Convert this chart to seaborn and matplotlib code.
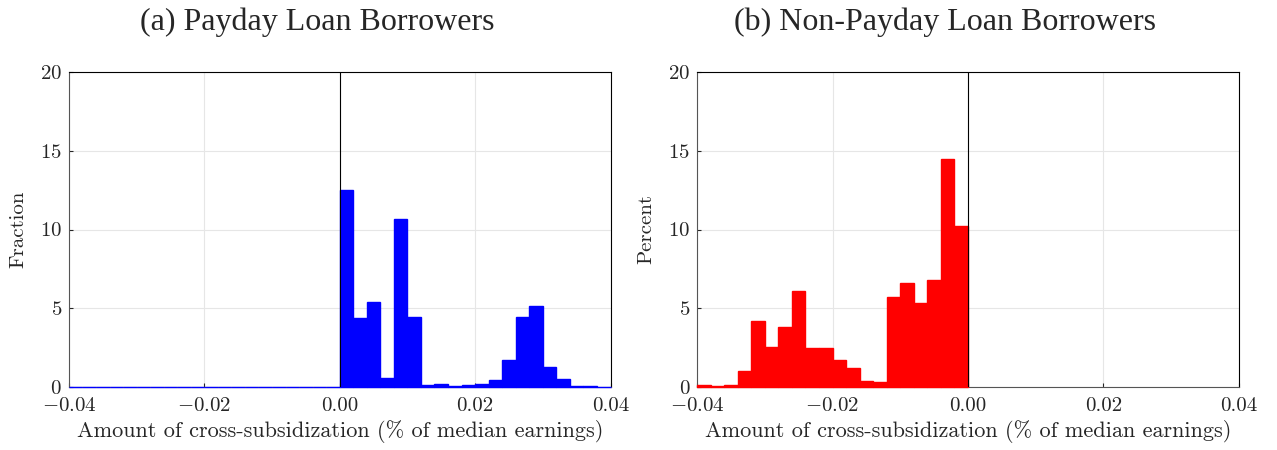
import numpy as np
import pandas as pd
import matplotlib
matplotlib.use("Agg")
import matplotlib.pyplot as plt
import seaborn as sns

# bins: 0.002 wide, from -0.04 to 0.04
bin_lo = -0.04
bin_hi = 0.04
bin_w = 0.002

# (a) payday borrowers: heights for bins 0.000 .. 0.040 (bins below 0 are empty)
payday_heights = [12.5, 4.36, 5.37, 0.59, 10.69, 4.44, 0.13, 0.19, 0.04, 0.13,
                  0.19, 0.44, 1.71, 4.44, 5.14, 1.25, 0.51, 0.04, 0.04, 0.02]
# (b) non-payday borrowers: heights for bins -0.040 .. 0.000
nonpayday_heights = [0.11, 0.05, 0.11, 0.99, 4.21, 2.54, 3.83, 6.12, 2.46, 2.46,
                     1.69, 1.18, 0.36, 0.30, 5.74, 6.63, 5.36, 6.79, 14.45, 10.22]

titles = ["(a) Payday Loan Borrowers", "(b) Non-Payday Loan Borrowers"]
ylabels = ["Fraction", "Percent"]
xlabel = "Amount of cross-subsidization (% of median earnings)"
xticks = [-0.04, -0.02, 0.00, 0.02, 0.04]
yticks = [0, 5, 10, 15, 20]

sns.set_style("white")
plt.rcParams['font.family'] = ['cmr10', 'DejaVu Serif']
plt.rcParams['mathtext.fontset'] = 'cm'
plt.rcParams['axes.formatter.use_mathtext'] = True

n_half = len(payday_heights)
centers = bin_lo + bin_w * (np.arange(2 * n_half) + 0.5)

# panel a: zero bars on the negative side (outline still shows)
df_a = pd.DataFrame({"x": centers,
                     "w": np.concatenate([np.zeros(n_half), payday_heights])})
# panel b: only negative bins
df_b = pd.DataFrame({"x": centers[:n_half], "w": nonpayday_heights})

fig, axes = plt.subplots(1, 2, figsize=(12.77, 4.5), dpi=100)
fig.subplots_adjust(left=0.054, right=0.970, bottom=0.14, top=0.84, wspace=0.16)

panels = [(df_a, (bin_lo, bin_hi), "#0000ff"), (df_b, (bin_lo, 0.0), "#ff0000")]
for ax, (df, brange, col), title, ylab in zip(axes, panels, titles, ylabels):
    sns.histplot(data=df, x="x", weights="w", binwidth=bin_w, binrange=brange,
                 ax=ax, color=col, alpha=1, edgecolor=col, linewidth=1.0,
                 stat="count")
    # keep the bar outlines above the bottom spine, like the original
    for p in ax.patches:
        p.set_zorder(3)
        p.set_clip_on(False)
    ax.axvline(0, color="black", lw=0.8, zorder=4)
    ax.set_xlim(bin_lo, bin_hi)
    ax.set_ylim(0, 20)
    ax.set_xticks(xticks)
    ax.set_yticks(yticks)
    ax.xaxis.set_major_formatter(matplotlib.ticker.FuncFormatter(
        lambda v, p: ("$-$" if v < -1e-9 else "") + f"{abs(v):.2f}"))
    ax.grid(True, color="#e6e6e6", lw=0.8)
    ax.set_axisbelow(True)
    ax.tick_params(direction="in", length=3, labelsize=15, width=0.8,
                   bottom=True, left=True, top=False, right=False, pad=5)
    ax.tick_params(axis="x", pad=7)
    for side in ["top", "right"]:
        ax.spines[side].set_color("black")
        ax.spines[side].set_linewidth(0.8)
    for side in ["left", "bottom"]:
        ax.spines[side].set_color("#555555")
        ax.spines[side].set_linewidth(0.8)
    # title is centred over the whole subplot cell (incl. y label), so a bit left
    ax.set_title(title, fontsize=23, pad=30, x=0.458,
                 family=["Liberation Serif", "DejaVu Serif"])
    ax.set_xlabel(xlabel, fontsize=16, labelpad=4)
    ax.set_ylabel(ylab, fontsize=15, labelpad=9)

fig.savefig("out.png", dpi=100)
